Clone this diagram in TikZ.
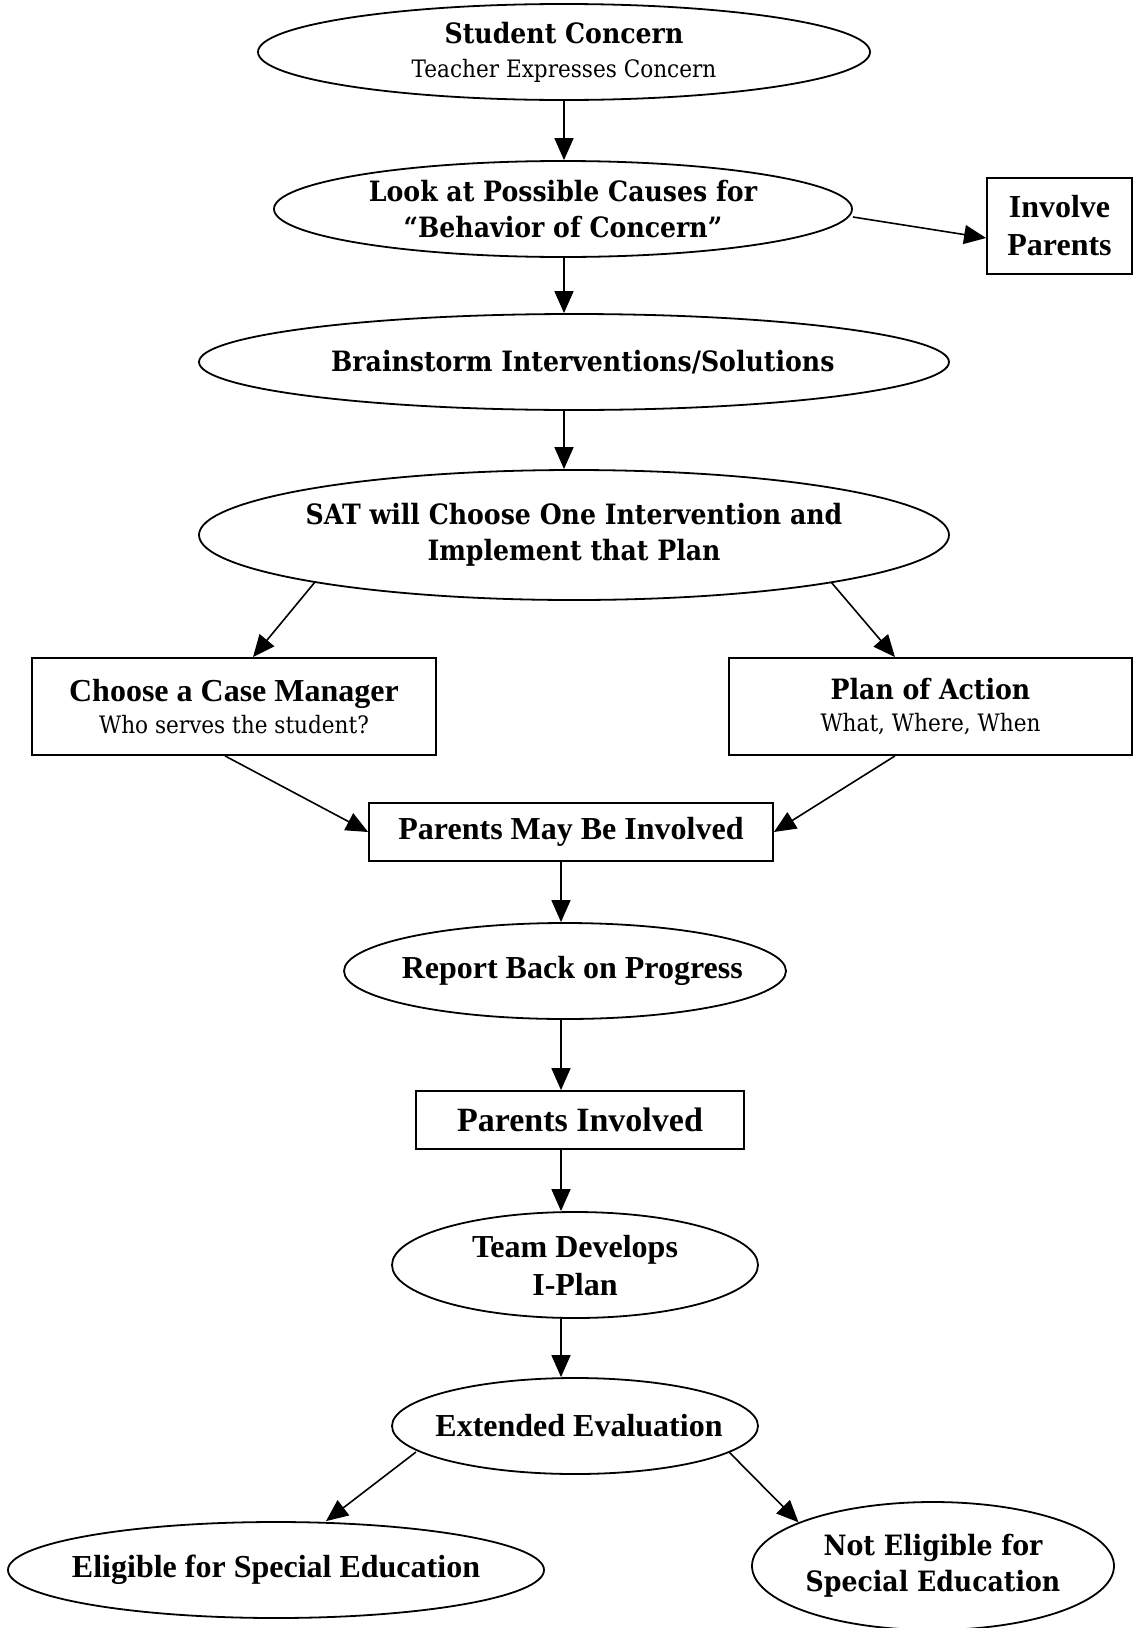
\documentclass[tikz,border=0pt]{standalone}
\usepackage{fontspec}
\setmainfont{Liberation Serif}
\newfontfamily\cam{DejaVu Serif}[FakeStretch=0.9]
\usetikzlibrary{shapes.geometric,arrows.meta,calc}
\begin{document}
\begin{tikzpicture}[x=0.5pt,y=-0.5pt,
  ell/.style={ellipse,draw,line width=0.9pt,inner xsep=-20pt,inner ysep=0pt,align=center},
  box/.style={rectangle,draw,line width=0.9pt,inner sep=0pt,align=center},
  arr/.style={line width=0.8pt,-{Triangle[length=11pt,width=9.5pt]}},
  tb/.style={font=\fontsize{16}{19}\selectfont\bfseries},
  cb/.style={font=\cam\fontsize{14}{18}\selectfont\bfseries},
]
\useasboundingbox (0,0) rectangle (1134,1628);
\newcommand\camreg{\cam\mdseries\fontsize{12}{15}\selectfont}

\node[ell,cb,minimum width=306pt,minimum height=48pt] (sc) at (564,52)
  {Student Concern\\[-1pt]{\camreg Teacher Expresses Concern}};
\node[ell,cb,minimum width=289pt,minimum height=48pt] (look) at (563,209)
  {Look at Possible Causes for\\“Behavior of Concern”};
\node[box,tb,minimum width=72.5pt,minimum height=48pt] (inv) at (1059.5,226)
  {Involve\\Parents};
\node[ell,cb,minimum width=375pt,minimum height=48pt] (brain) at (574,362)
  {\hspace*{8.8pt}Brainstorm Interventions/Solutions};
\node[ell,cb,minimum width=375pt,minimum height=65pt] (sat) at (574,535)
  {SAT will Choose One Intervention and\\Implement that Plan};
\node[box,tb,minimum width=202pt,minimum height=48.5pt] (cm) at (234,706.5)
  {Choose a Case Manager\\[-3pt]{\camreg Who serves the student?}};
\node[box,cb,minimum width=201.5pt,minimum height=48.5pt] (poa) at (930.5,706.5)
  {Plan of Action\\[-2pt]{\camreg What, Where, When}};
\node[box,tb,minimum width=202pt,minimum height=29pt] (pmb) at (571,832)
  {Parents May Be Involved};
\node[ell,tb,minimum width=221pt,minimum height=48pt] (rep) at (565,971)
  {\hspace*{7.3pt}Report Back on Progress};
\node[box,font=\fontsize{17}{20}\selectfont\bfseries,minimum width=164pt,minimum height=29pt] (pin) at (580,1120)
  {Parents Involved};
\node[ell,tb,minimum width=183pt,minimum height=53pt] (team) at (575,1265)
  {\rule{0pt}{12pt}Team Develops\\I-Plan};
\node[ell,tb,minimum width=183pt,minimum height=48pt] (ext) at (575,1426)
  {\hspace*{4pt}Extended Evaluation};
\node[ell,tb,minimum width=268pt,minimum height=48pt] (eli) at (276,1570)
  {Eligible for Special Education};
\node[ell,cb,minimum width=181pt,minimum height=64pt] (nel) at (933,1566)
  {Not Eligible for\\Special Education};

\coordinate (c1) at (564,0);
\coordinate (c2) at (561,0);

\draw[arr] (sc.south -| c1) -- (look.north -| c1);
\draw[arr] ([yshift=-4pt]look.east) -- ([yshift=-6pt]inv.west);
\draw[arr] (look.south -| c1) -- (brain.north -| c1);
\draw[arr] (brain.south -| c1) -- (sat.north -| c1);
\draw[arr] ($(sat.center)+(-259,47)$) -- ([xshift=9.5pt]cm.north);
\draw[arr] ($(sat.center)+(257,47)$) -- ([xshift=-17.75pt]poa.north);
\draw[arr] ([xshift=-4.5pt]cm.south) -- (pmb.west);
\draw[arr] ([xshift=-17.75pt]poa.south) -- (pmb.east);
\draw[arr] (pmb.south -| c2) -- (rep.north -| c2);
\draw[arr] (rep.south -| c2) -- (pin.north -| c2);
\draw[arr] (pin.south -| c2) -- (team.north -| c2);
\draw[arr] (team.south -| c2) -- (ext.north -| c2);
\draw[arr] ($(ext.center)+(-159,26)$) -- ([xshift=25pt]eli.north);
\draw[arr] ($(ext.center)+(154,26)$) -- (nel.162);
\end{tikzpicture}
\end{document}
